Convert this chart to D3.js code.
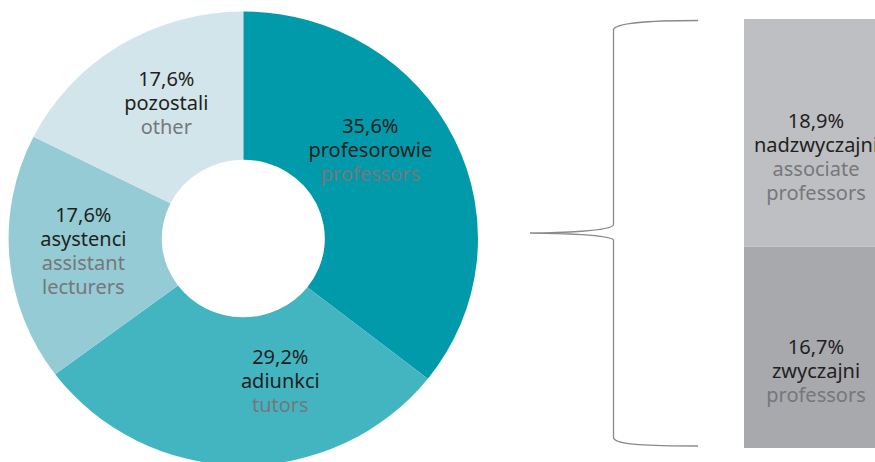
<!DOCTYPE html>
<html>
<head>
<meta charset="utf-8">
<script src="https://cdn.jsdelivr.net/npm/d3@7/dist/d3.min.js"></script>
<style>
  html, body { margin: 0; padding: 0; background: #fff; }
  svg { display: block; }
  text { font-family: "Noto Sans", sans-serif; font-size: 20px; }
</style>
</head>
<body>
<svg id="chart" width="875" height="462"></svg>
<script>
// ---- data ----
const categories = ["profesorowie", "adiunkci", "asystenci", "pozostali"];
const categoriesEn = [["professors"], ["tutors"], ["assistant", "lecturers"], ["other"]];
const values = [35.6, 29.2, 17.6, 17.6];

const subCategories = ["nadzwyczajni", "zwyczajni"];
const subCategoriesEn = [["associate", "professors"], ["professors"]];
const subValues = [18.9, 16.7];

// ---- styles / layout ----
const sliceColors = ["#009aab", "#43b5c0", "#95cbd4", "#d2e5ea"];
const barColors = ["#bebfc3", "#a8a9ad"];
const darkText = "#231f20";
const greyText = "#76777a";
const lineH = 24;

const svg = d3.select("#chart");

const cx = 243.3, cy = 238.5;
const rOuter = 234.7, rInner = 81.5, yScaleK = 0.967;

// label first-line offsets from centre (layout only)
const labelOffsets = [[127, -106], [37, 125.5], [-160, -17], [-77, -152.5]];
const barTextShift = 31;

const fmt = v => d3.format(".1f")(v).replace(".", ",") + "%";

const pie = d3.pie().sort(null).value(d => d)(values);
const arc = d3.arc().innerRadius(rInner).outerRadius(rOuter);

const donut = svg.append("g")
  .attr("transform", `translate(${cx},${cy}) scale(1,${yScaleK})`);
donut.selectAll("path")
  .data(pie)
  .join("path")
  .attr("d", arc)
  .attr("fill", (d, i) => sliceColors[i]);

const labels = svg.append("g").attr("transform", `translate(${cx},${cy})`);
pie.forEach((d, i) => {
  const [ox, oy] = labelOffsets[i];
  const lines = [
    { t: fmt(values[i]), c: darkText },
    { t: categories[i], c: darkText },
    ...categoriesEn[i].map(t => ({ t, c: greyText }))
  ];
  const txt = labels.append("text")
    .attr("text-anchor", "middle")
    .attr("x", ox).attr("y", oy);
  lines.forEach((l, j) => {
    txt.append("tspan")
      .attr("x", ox)
      .attr("dy", j === 0 ? 0 : lineH)
      .attr("fill", l.c)
      .text(l.t);
  });
});

// ---- stacked bar ----
const barX = 744, barW = 144;
const total = d3.sum(subValues);
const y = d3.scaleLinear().domain([0, total]).range([448, 19]);
// stack from bottom: zwyczajni at bottom, nadzwyczajni on top
const stackOrder = [1, 0];
let acc = 0;
const segs = stackOrder.map(i => {
  const s = { i, y0: acc, y1: acc + subValues[i] };
  acc += subValues[i];
  return s;
});
const barG = svg.append("g");
barG.selectAll("rect")
  .data(segs)
  .join("rect")
  .attr("x", barX)
  .attr("width", barW)
  .attr("y", d => y(d.y1))
  .attr("height", d => y(d.y0) - y(d.y1))
  .attr("fill", d => barColors[d.i]);

segs.forEach(s => {
  const i = s.i;
  const lines = [
    { t: fmt(subValues[i]), c: darkText },
    { t: subCategories[i], c: darkText },
    ...subCategoriesEn[i].map(t => ({ t, c: greyText }))
  ];
  const midY = (y(s.y0) + y(s.y1)) / 2 + barTextShift;
  const firstY = midY - ((lines.length - 1) * lineH) / 2;
  const txt = barG.append("text")
    .attr("text-anchor", "middle")
    .attr("x", barX + barW / 2).attr("y", firstY);
  lines.forEach((l, j) => {
    txt.append("tspan")
      .attr("x", barX + barW / 2)
      .attr("dy", j === 0 ? 0 : lineH)
      .attr("fill", l.c)
      .text(l.t);
  });
});

// ---- brace ----
const bx = 613.5, tipX = 530, endX = 698;
const topY = y(total) + 1.5, botY = y(0) - 3, midY = 233;
const p = d3.path();
p.moveTo(endX, topY);
p.bezierCurveTo(650, topY, 616, topY + 2, bx, topY + 9);
p.lineTo(bx, midY - 8);
p.bezierCurveTo(bx - 3, midY - 2, 560, midY, tipX, midY);
p.moveTo(tipX, midY);
p.bezierCurveTo(560, midY, bx - 3, midY + 2, bx, midY + 7);
p.lineTo(bx, botY - 7);
p.bezierCurveTo(616, botY, 650, botY + 1, endX, botY + 1);
svg.append("path")
  .attr("d", p.toString())
  .attr("fill", "none")
  .attr("stroke", "#8a8a8c")
  .attr("stroke-width", 1.3);
</script>
</body>
</html>
